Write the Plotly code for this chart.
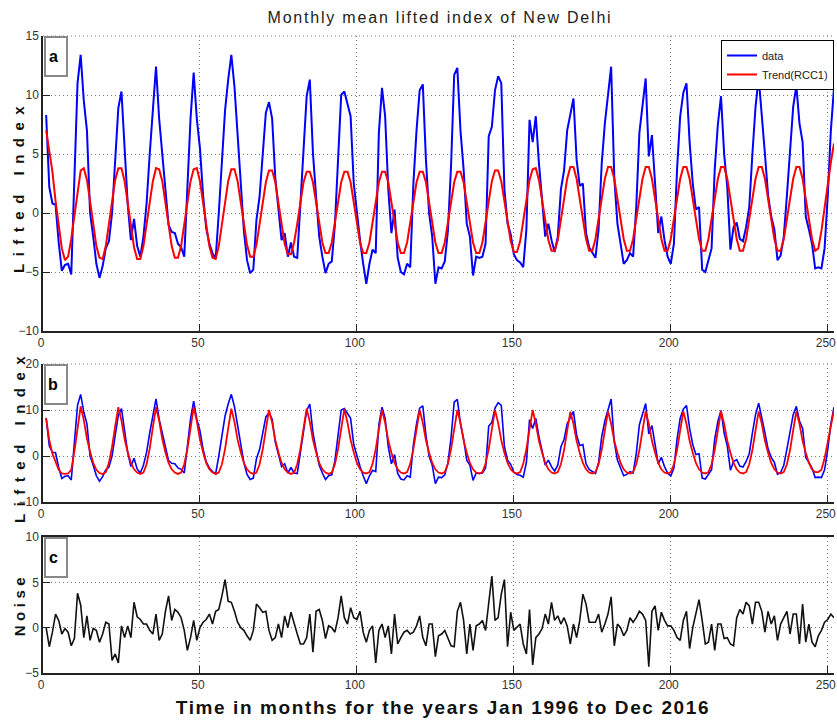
import plotly.graph_objects as go

# Month index: Jan 1996 = 1 ... Dec 2016 = 252
months = list(range(1, 253))

# Monthly mean lifted index (observed), one row per year
lifted_index = [
    8.3, 2.2, 0.8, 0.7, -2.5, -4.9, -4.4, -4.3, -5.2, 3.0, 11.0, 13.4,
    9.5, 7.0, 0.0, -2.0, -4.3, -5.5, -4.5, -3.0, -2.4, 0.0, 4.6, 8.9,
    10.3, 5.0, 0.7, -2.3, -0.5, -2.8, -3.7, -2.0, 0.8, 5.0, 9.0, 12.4,
    8.0, 5.0, 1.5, -1.0, -1.6, -1.7, -2.6, -2.9, -3.7, 2.7, 8.0, 11.9,
    8.0, 5.5, 1.5, -1.3, -2.6, -3.4, -3.9, 0.0, 4.5, 8.7, 11.3, 13.4,
    10.7, 6.8, 2.0, -1.5, -4.0, -5.1, -4.8, -0.6, 1.4, 4.8, 8.5, 9.4,
    8.0, 3.0, 0.0, -2.3, -1.7, -3.7, -2.5, -3.7, -3.8, 1.0, 5.5, 9.9,
    11.3, 5.1, 1.4, -2.0, -3.7, -5.1, -4.3, -4.1, -1.0, 5.0, 10.0, 10.3,
    9.3, 8.2, 2.5, 0.0, -2.3, -4.3, -6.0, -4.3, -3.1, -3.4, 6.8, 10.6,
    8.2, 2.0, -1.7, 0.3, -3.8, -5.0, -5.2, -4.3, -4.6, 2.5, 7.0, 10.4,
    10.9, 4.5, 0.0, -2.0, -6.0, -4.6, -4.7, -4.1, -1.5, 4.0, 11.7, 12.3,
    7.0, 3.7, -0.9, -2.0, -5.3, -3.7, -3.8, -3.7, -2.6, 6.5, 7.3, 10.4,
    11.6, 11.0, 2.0, -0.9, -1.8, -3.5, -4.0, -4.2, -4.6, -1.4, 7.9, 6.0,
    8.2, 4.2, 1.4, -2.0, -0.9, -2.3, -3.3, -2.0, 2.0, 3.6, 7.0, 8.5,
    9.7, 4.5, 2.3, 2.5, -1.7, -2.9, -3.4, -3.8, -1.4, 4.2, 7.6, 10.0,
    12.4, 3.0, -0.9, -2.6, -4.3, -4.0, -3.4, -3.7, 0.5, 6.8, 9.3, 11.4,
    4.8, 6.6, 2.5, -1.7, -0.3, -2.3, -3.7, -4.3, -2.6, 3.7, 8.2, 10.2,
    11.0, 6.0, 2.5, 0.3, 0.5, -4.8, -5.0, -4.0, -3.0, 3.7, 7.5, 9.9,
    5.0, 2.2, -3.1, -1.2, -0.8, -2.2, -2.4, -1.2, 0.5, 5.0, 9.0, 11.5,
    8.5, 5.0, 1.5, -0.3, -1.4, -4.0, -3.6, -2.0, 1.5, 5.5, 9.0, 10.8,
    7.6, 6.0, -0.3, -1.4, -2.6, -4.7, -4.6, -4.7, -3.0, 1.4, 7.0, 10.6,
]

# First reconstructed component, Trend(RCC1)
trend_rcc1 = [
    7.0, 5.4, 3.5, 1.0, -1.0, -3.0, -4.0, -3.7, -2.2, -0.2, 2.0, 3.6,
    3.8, 2.8, 1.0, -1.1, -2.8, -3.8, -3.9, -2.8, -1.0, 1.0, 2.8, 3.8,
    3.8, 2.7, 0.9, -1.1, -2.9, -3.9, -3.9, -2.8, -1.1, 0.9, 2.7, 3.8,
    3.7, 2.7, 0.9, -1.1, -2.8, -3.8, -3.8, -2.8, -1.0, 0.9, 2.7, 3.7,
    3.8, 2.7, 0.9, -1.0, -2.8, -3.8, -3.9, -2.8, -1.0, 0.9, 2.7, 3.7,
    3.7, 2.7, 0.9, -1.0, -2.7, -3.7, -3.7, -2.7, -1.0, 1.0, 2.6, 3.6,
    3.6, 2.6, 1.0, -0.9, -2.6, -3.5, -3.5, -2.5, -0.9, 1.0, 2.6, 3.5,
    3.5, 2.6, 1.0, -0.9, -2.5, -3.4, -3.4, -2.5, -0.9, 1.0, 2.6, 3.5,
    3.5, 2.6, 1.0, -0.9, -2.5, -3.4, -3.4, -2.5, -0.9, 1.0, 2.6, 3.5,
    3.5, 2.6, 1.0, -0.9, -2.5, -3.4, -3.4, -2.5, -0.9, 1.0, 2.6, 3.5,
    3.5, 2.6, 1.0, -0.9, -2.5, -3.4, -3.4, -2.5, -0.9, 1.0, 2.6, 3.5,
    3.5, 2.6, 1.0, -0.9, -2.5, -3.4, -3.4, -2.5, -0.8, 1.1, 2.7, 3.6,
    3.6, 2.7, 1.1, -0.8, -2.4, -3.3, -3.3, -2.4, -0.7, 1.2, 2.8, 3.7,
    3.8, 2.8, 1.2, -0.7, -2.3, -3.2, -3.2, -2.3, -0.6, 1.3, 2.9, 3.9,
    3.9, 2.9, 1.3, -0.6, -2.2, -3.2, -3.2, -2.2, -0.6, 1.3, 2.9, 3.9,
    3.9, 2.9, 1.3, -0.6, -2.2, -3.2, -3.2, -2.2, -0.6, 1.3, 2.9, 3.9,
    3.9, 2.9, 1.3, -0.6, -2.2, -3.2, -3.2, -2.2, -0.6, 1.3, 2.9, 3.9,
    3.9, 2.9, 1.3, -0.6, -2.2, -3.2, -3.2, -2.2, -0.6, 1.3, 2.9, 3.9,
    3.9, 2.9, 1.3, -0.6, -2.2, -3.2, -3.2, -2.2, -0.6, 1.3, 2.9, 3.9,
    3.9, 2.9, 1.3, -0.6, -2.2, -3.2, -3.2, -2.2, -0.6, 1.3, 2.9, 3.9,
    3.9, 2.9, 1.3, -0.6, -2.2, -3.2, -3.0, -1.5, 0.6, 2.6, 4.3, 5.9,
]

# Reconstructed signal (leading components) shown against the data in panel b
reconstruction = [
    8.2, 3.5, 0.5, -1.5, -3.0, -3.8, -3.9, -3.8, -3.0, 1.0, 5.5, 10.8,
    7.8, 3.8, 0.9, -1.5, -3.0, -3.7, -3.9, -3.5, -1.5, 2.0, 6.5, 10.6,
    7.7, 3.7, 0.8, -1.5, -2.9, -3.6, -3.9, -3.6, -1.8, 1.6, 6.2, 10.6,
    7.7, 3.7, 0.8, -1.5, -2.9, -3.6, -3.9, -3.6, -1.8, 1.5, 6.0, 10.6,
    7.6, 3.6, 0.8, -1.5, -2.9, -3.6, -3.9, -3.6, -1.8, 1.5, 6.0, 10.3,
    7.4, 3.5, 0.8, -1.5, -2.9, -3.6, -3.9, -3.6, -1.8, 1.4, 5.8, 10.0,
    7.3, 3.5, 0.8, -1.5, -2.9, -3.6, -3.9, -3.6, -1.8, 1.5, 6.0, 10.3,
    7.4, 3.5, 0.8, -1.5, -2.9, -3.6, -3.9, -3.6, -1.8, 1.5, 5.9, 10.2,
    7.3, 3.5, 0.8, -1.5, -2.9, -3.6, -3.8, -3.5, -1.7, 1.5, 5.8, 10.0,
    7.2, 3.4, 0.7, -1.5, -2.9, -3.6, -3.8, -3.5, -1.7, 1.5, 5.8, 10.0,
    7.2, 3.4, 0.7, -1.5, -2.9, -3.6, -3.8, -3.5, -1.7, 1.5, 5.8, 10.0,
    7.2, 3.4, 0.7, -1.5, -2.9, -3.6, -3.8, -3.5, -1.7, 1.5, 5.8, 10.0,
    7.2, 3.4, 0.7, -1.5, -2.9, -3.6, -3.8, -3.5, -1.7, 1.5, 5.8, 10.0,
    7.0, 3.3, 0.7, -1.5, -2.9, -3.6, -3.8, -3.5, -1.8, 1.3, 5.5, 9.6,
    7.0, 3.3, 0.7, -1.5, -2.9, -3.6, -3.8, -3.5, -1.8, 1.3, 5.6, 9.7,
    7.0, 3.3, 0.7, -1.5, -2.9, -3.6, -3.8, -3.5, -1.8, 1.3, 5.6, 9.7,
    7.0, 3.3, 0.7, -1.5, -2.9, -3.6, -3.8, -3.5, -1.8, 1.3, 5.6, 9.7,
    7.0, 3.3, 0.7, -1.5, -2.9, -3.6, -3.8, -3.5, -1.8, 1.3, 5.6, 9.7,
    7.0, 3.3, 0.7, -1.5, -2.9, -3.6, -3.8, -3.5, -1.8, 1.3, 5.6, 9.7,
    7.0, 3.3, 0.7, -1.5, -2.9, -3.6, -3.8, -3.5, -1.8, 1.3, 5.6, 9.7,
    7.0, 3.3, 0.7, -1.5, -2.9, -3.5, -3.5, -3.0, -0.5, 3.0, 6.5, 10.0,
]

# Residual noise
noise = [
    0.0, -2.1, -0.5, 1.5, 0.8, -0.7, -0.1, -0.5, -2.0, -1.2, 3.8, 2.5,
    -1.1, 1.3, -1.4, -0.1, -0.3, -1.6, -0.7, 0.6, 0.4, -3.6, -2.9, -3.9,
    0.2, -1.1, 0.2, -1.1, 2.8, 1.2, 0.9, 0.4, 0.4, -0.3, -0.7, 1.5,
    -1.4, -0.7, 1.8, 3.5, 0.8, 2.0, 1.7, 1.1, -0.3, -2.5, -1.1, 0.8,
    -1.4, 0.0, 0.6, 0.9, 1.5, 0.4, 1.8, 2.0, 3.5, 5.3, 2.9, 2.8,
    1.8, 0.6, 0.0, -0.3, -0.9, -1.4, -0.3, 2.6, 2.2, 1.7, 1.8, -0.3,
    -1.4, -1.1, 0.4, -1.1, 1.3, 0.0, 1.7, 0.4, -0.7, -1.8, -1.8, -1.1,
    1.5, -2.7, 1.8, 2.0, 0.8, -1.2, 0.2, 0.0, -0.5, 1.1, 3.5, 1.1,
    0.4, 2.2, 1.1, 0.9, 1.8, -0.5, -1.6, -0.3, 0.2, -3.9, -0.3, 0.4,
    -1.1, 0.2, -2.9, 1.5, -1.8, -1.1, -0.5, -0.3, -0.7, -0.5, 0.2, 1.3,
    -1.1, -2.0, 0.4, 0.4, -3.2, -0.9, -0.7, -0.3, -1.1, -2.0, -2.1, 1.8,
    2.8, 0.8, -2.9, 0.4, -2.5, 0.2, 0.4, 0.8, -0.3, 2.6, 5.7, 0.8,
    1.1, 3.7, 5.3, -2.1, 1.7, -0.3, 0.0, 0.4, -1.8, -2.9, 2.0, -4.1,
    -1.1, -0.7, -0.1, 1.5, 0.4, 2.8, 0.8, 1.3, 0.4, 1.1, 0.2, -1.8,
    0.4, -1.1, 0.8, 3.7, 2.6, 0.6, 0.6, 0.6, 1.5, -0.5, 0.4, 1.5,
    3.4, -2.0, 0.4, 0.0, -0.9, -0.3, 1.1, 0.6, 1.1, 1.8, 1.5, 0.8,
    -4.3, 1.8, 2.4, -0.3, 1.7, 0.8, 0.2, 0.2, -0.3, -1.1, -1.4, 0.8,
    1.8, -2.3, 0.0, 1.5, 3.1, 0.8, -1.8, -1.6, 0.4, -2.5, 0.4, 0.4,
    -1.2, -1.1, -1.8, -2.0, 1.1, 2.0, 1.5, 2.8, 2.4, 0.4, 2.8, 2.8,
    1.8, -0.5, 1.8, 0.4, 1.3, -1.4, 0.4, 1.1, 1.8, -0.7, 1.5, 1.5,
    -1.8, 2.6, -1.6, 0.4, -1.6, -2.1, -0.9, -0.3, 0.6, 0.9, 1.5, 1.1,
]

x_ticks = [0, 50, 100, 150, 200, 250]
panel_letters = ["a", "b", "c"]
y_ranges = [[-10, 15], [-10, 20], [-5, 10]]
y_dticks = [5, 10, 5]
y_titles = ["Lifted Index", "Lifted Index", "Noise"]

W, H = 837, 724
ML, MR = 43, 3
PLOT_W = W - ML - MR

# Panel extents in page pixels (top, bottom)
panel_px = [(36, 331), (364, 502), (537, 673)]

BLUE = "#0000ff"
RED = "#ff0000"
TICK_FONT = dict(family="Liberation Sans Narrow, Liberation Sans, Arial, sans-serif",
                 size=12, color="#333333")
GRID = "#7a7a7a"
GRID_DASH = "1px,3px"


def ypaper(py):
    return 1 - py / H


def xpaper(px):
    return (px - ML) / PLOT_W


fig = go.Figure()

# Panel a: data with the RCC1 trend
fig.add_trace(go.Scatter(x=months, y=lifted_index, mode="lines", name="data",
                         line=dict(color=BLUE, width=2), xaxis="x", yaxis="y"))
fig.add_trace(go.Scatter(x=months, y=trend_rcc1, mode="lines", name="Trend(RCC1)",
                         line=dict(color=RED, width=2), xaxis="x", yaxis="y"))
# Panel b: data with the reconstruction
fig.add_trace(go.Scatter(x=months, y=lifted_index, mode="lines", showlegend=False,
                         line=dict(color=BLUE, width=1.6), xaxis="x2", yaxis="y2"))
fig.add_trace(go.Scatter(x=months, y=reconstruction, mode="lines", showlegend=False,
                         line=dict(color=RED, width=1.8), xaxis="x2", yaxis="y2"))
# Panel c: residual noise
fig.add_trace(go.Scatter(x=months, y=noise, mode="lines", showlegend=False,
                         line=dict(color="#111111", width=1.6), xaxis="x3", yaxis="y3"))

layout = dict(
    width=W, height=H,
    margin=dict(l=ML, r=MR, t=0, b=0, autoexpand=False),
    paper_bgcolor="white", plot_bgcolor="white",
    showlegend=True,
    legend=dict(x=1, y=ypaper(40), xanchor="right", yanchor="top",
                bgcolor="white", bordercolor="black", borderwidth=1,
                font=dict(family="Liberation Sans Narrow, Liberation Sans, Arial, sans-serif",
                          size=11, color="#222222"),
                tracegroupgap=0, itemwidth=30),
    title=dict(text="Monthly mean lifted index of New Delhi",
               x=440 / W, xanchor="center", y=1 - 17 / H, yanchor="middle",
               xref="container", yref="container",
               font=dict(family="Liberation Sans, Arial, sans-serif", size=16, color="#222222")),
)

shapes = []
annotations = []
for i in range(3):
    sfx = "" if i == 0 else str(i + 1)
    top, bot = panel_px[i]
    layout["xaxis" + sfx] = dict(
        domain=[0, 1], anchor="y" + sfx, range=[0, 252],
        tickmode="array", tickvals=x_ticks, ticks="inside", ticklen=7,
        tickcolor="#222222", tickwidth=1, tickfont=TICK_FONT,
        ticklabelshift=-2,
        showline=True, linecolor="#222222", linewidth=1.5,
        mirror=(i == 2),
        showgrid=True, gridcolor=GRID, griddash=GRID_DASH, gridwidth=1,
        zeroline=False,
    )
    layout["yaxis" + sfx] = dict(
        domain=[ypaper(bot), ypaper(top)], anchor="x" + sfx, range=y_ranges[i],
        dtick=y_dticks[i], tick0=0, ticks="inside", ticklen=7,
        tickcolor="#222222", tickwidth=1, tickfont=TICK_FONT,
        ticklabeloverflow="allow",
        showline=True, linecolor="#222222", linewidth=1.5,
        showgrid=True, gridcolor=GRID, griddash=GRID_DASH, gridwidth=1,
        zeroline=False,
    )
    xd = "x" + sfx + " domain"
    yd = "y" + sfx + " domain"
    h = bot - top
    # dotted upper frame for the two upper panels
    if i < 2:
        shapes.append(dict(type="line", xref=xd, yref=yd, x0=0, x1=1, y0=1, y1=1,
                           line=dict(color=GRID, width=1, dash=GRID_DASH)))
    # panel letter box
    bx0, bx1 = 45, 67
    by0, by1 = top + 1, top + 40
    shapes.append(dict(type="rect", xref=xd, yref=yd,
                       x0=(bx0 - ML) / PLOT_W, x1=(bx1 - ML) / PLOT_W,
                       y0=(bot - by1) / h, y1=(bot - by0) / h,
                       line=dict(color="#888888", width=2), fillcolor="white", layer="above"))
    annotations.append(dict(text="<b>%s</b>" % panel_letters[i], xref=xd, yref=yd,
                            x=(53 - ML) / PLOT_W, y=(bot - (top + 20)) / h,
                            showarrow=False, xanchor="center", yanchor="middle",
                            font=dict(family="Liberation Sans, Arial, sans-serif",
                                      size=16, color="black")))

# Vertical axis titles
ytitle_centers = [186, 436, 605]
for i in range(3):
    annotations.append(dict(text="<b>%s</b>" % y_titles[i], xref="paper", yref="paper",
                            x=xpaper(19), y=ypaper(ytitle_centers[i]), textangle=-90,
                            showarrow=False, xanchor="center", yanchor="middle",
                            font=dict(family="Liberation Sans, Arial, sans-serif",
                                      size=15, color="#111111")))

# Horizontal axis title
annotations.append(dict(text="<b>Time in months for the years Jan 1996 to Dec 2016</b>",
                        xref="paper", yref="paper", x=xpaper(443), y=ypaper(707),
                        showarrow=False, xanchor="center", yanchor="middle",
                        font=dict(family="Liberation Sans, Arial, sans-serif",
                                  size=19, color="#111111")))

layout["shapes"] = shapes
layout["annotations"] = annotations
fig.update_layout(**layout)

# Wide tracking for the titles
spacing_js = """
var gd = document.getElementById('{plot_id}');
var rules = [['Monthly mean', '1.8px'], ['Time in months', '1.6px'],
             ['Lifted Index', '7.5px'], ['Noise', '4.5px']];
gd.querySelectorAll('text').forEach(function (el) {
  var s = el.textContent;
  rules.forEach(function (r) { if (s.indexOf(r[0]) === 0) { el.style.letterSpacing = r[1]; } });
});
"""

fig.write_html("out.html", post_script=spacing_js)
